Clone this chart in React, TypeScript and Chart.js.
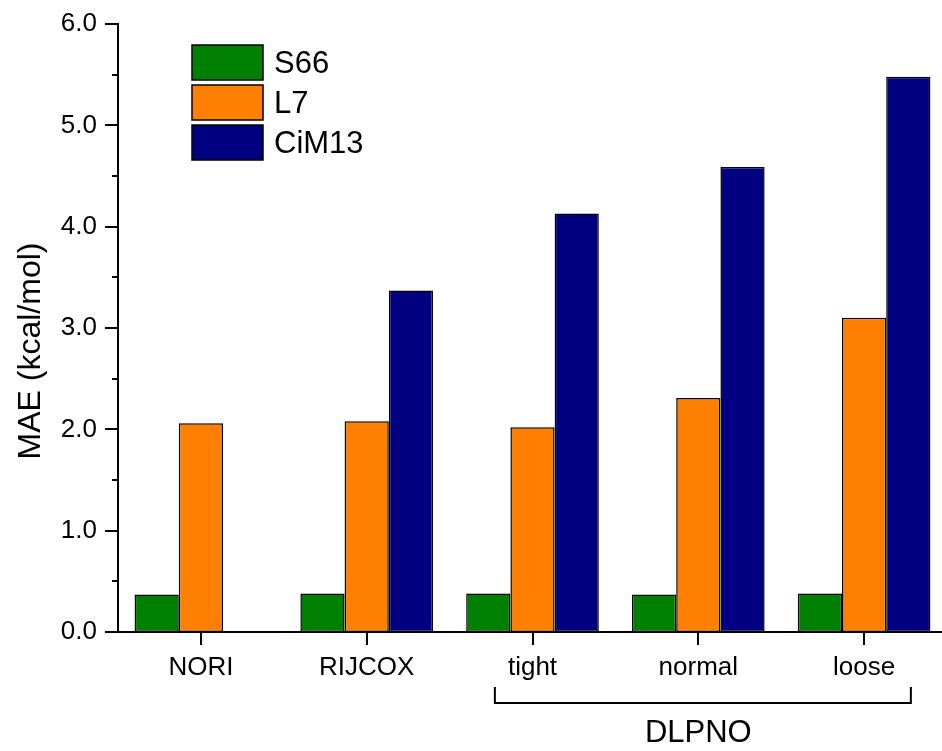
import React, { useEffect, useRef } from "react";
import { Chart, registerables } from "chart.js";

Chart.register(...registerables);

const categories = ["NORI", "RIJCOX", "tight", "normal", "loose"];
const seriesNames = ["S66", "L7", "CiM13"];
const s66 = [0.37, 0.38, 0.38, 0.37, 0.38];
const l7 = [2.06, 2.08, 2.02, 2.31, 3.1];
const cim13: (number | null)[] = [null, 3.37, 4.13, 4.59, 5.48];
const colors = ["#008000", "#FF8000", "#000080"];
const yTickValues = [0, 0.5, 1, 1.5, 2, 2.5, 3, 3.5, 4, 4.5, 5, 5.5, 6];
const groupLabel = "DLPNO";
const groupFrom = 2;
const groupTo = 4;
const yTitle = "MAE (kcal/mol)";

const FONT = "'Liberation Sans', Arial, sans-serif";

const decorPlugin = {
  id: "decor",
  afterDraw(chart: any) {
    const ctx = chart.ctx;
    const area = chart.chartArea;
    const x = chart.scales.x;
    const y = chart.scales.y;
    ctx.save();
    ctx.strokeStyle = "#000";
    ctx.fillStyle = "#000";
    ctx.lineWidth = 2;
    // y ticks
    yTickValues.forEach((v) => {
      const py = Math.round(y.getPixelForValue(v));
      const len = v % 1 === 0 ? 13 : 6;
      ctx.beginPath();
      ctx.moveTo(area.left - len, py);
      ctx.lineTo(area.left, py);
      ctx.stroke();
    });
    // x ticks
    categories.forEach((_, i) => {
      const px = Math.round(x.getPixelForValue(i));
      ctx.beginPath();
      ctx.moveTo(px, area.bottom);
      ctx.lineTo(px, area.bottom + 13);
      ctx.stroke();
    });
    // bracket
    const catW = (area.right - area.left) / categories.length;
    const bx1 = x.getPixelForValue(groupFrom) - 0.227 * catW;
    const bx2 = x.getPixelForValue(groupTo) + 0.282 * catW;
    const by = area.bottom + 71;
    ctx.beginPath();
    ctx.moveTo(bx1, by - 16);
    ctx.lineTo(bx1, by);
    ctx.lineTo(bx2, by);
    ctx.lineTo(bx2, by - 16);
    ctx.stroke();
    ctx.font = `31px ${FONT}`;
    ctx.textAlign = "center";
    ctx.textBaseline = "alphabetic";
    ctx.fillText(groupLabel, x.getPixelForValue((groupFrom + groupTo) / 2), area.bottom + 110);
    // y title
    ctx.save();
    ctx.translate(40, 351);
    ctx.rotate(-Math.PI / 2);
    ctx.font = `32px ${FONT}`;
    ctx.textAlign = "center";
    ctx.textBaseline = "alphabetic";
    ctx.fillText(yTitle, 0, 0);
    ctx.restore();
    // legend
    const lx = area.left + 74;
    const ly = area.top + 21;
    seriesNames.forEach((name, i) => {
      const top = ly + i * 40;
      ctx.fillStyle = colors[i];
      ctx.fillRect(lx, top, 71, 35);
      ctx.lineWidth = 1.5;
      ctx.strokeStyle = "#000";
      ctx.strokeRect(lx, top, 71, 35);
      ctx.fillStyle = "#000";
      ctx.font = `31px ${FONT}`;
      ctx.textAlign = "left";
      ctx.textBaseline = "middle";
      ctx.fillText(name, lx + 82, top + 19);
    });
    ctx.restore();
  },
};

export default function App() {
  const ref = useRef<HTMLCanvasElement>(null);
  useEffect(() => {
    if (!ref.current) return;
    const datasets = [s66, l7, cim13].map((d, i) => ({
      label: seriesNames[i],
      data: d,
      backgroundColor: colors[i],
      borderColor: "#000",
      borderWidth: 1.5,
      borderSkipped: false as any,
      barPercentage: 1,
      categoryPercentage: 0.8,
    }));
    const chart = new Chart(ref.current, {
      type: "bar",
      data: { labels: categories, datasets },
      plugins: [decorPlugin],
      options: {
        animation: false,
        responsive: false,
        devicePixelRatio: 1,
        layout: { padding: { top: 24, left: 0, right: 0, bottom: 0 } },
        plugins: { legend: { display: false }, tooltip: { enabled: false } },
        scales: {
          x: {
            grid: { display: false, drawTicks: false },
            border: { display: true, color: "#000", width: 2 },
            ticks: { color: "#000", font: { family: FONT, size: 26 }, padding: 20, maxRotation: 0 },
            afterFit: (s: any) => {
              s.height = 119;
              s.paddingLeft = 0;
              s.paddingRight = 0;
            },
          },
          y: {
            min: 0,
            max: 6,
            grid: { display: false, drawTicks: false },
            border: { display: true, color: "#000", width: 2 },
            ticks: {
              stepSize: 0.5,
              autoSkip: false,
              color: "#000",
              font: { family: FONT, size: 26 },
              padding: 21,
              callback: (v: any) => (Number(v) % 1 === 0 ? Number(v).toFixed(1) : ""),
            },
            afterFit: (s: any) => {
              s.width = 118;
              s.paddingTop = 0;
              s.paddingBottom = 0;
            },
          },
        },
      },
    });
    return () => chart.destroy();
  }, []);
  return (
    <div style={{ position: "absolute", left: 0, top: 0, width: 942, height: 751, overflow: "hidden", background: "#fff" }}>
      <canvas ref={ref} width={947} height={751} style={{ display: "block" }} />
    </div>
  );
}
